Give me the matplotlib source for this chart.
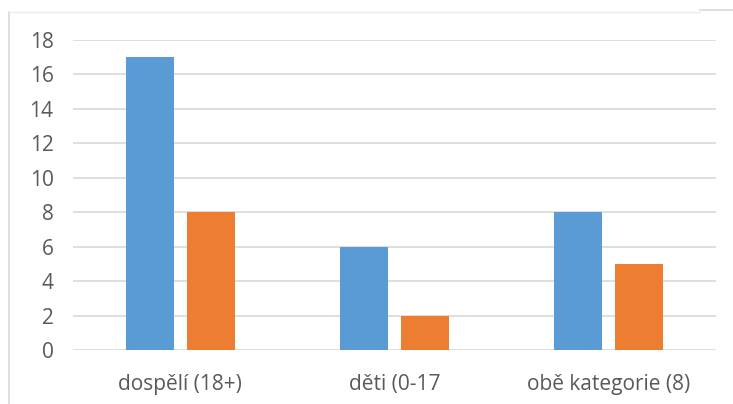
import matplotlib.pyplot as plt
import numpy as np
from matplotlib.lines import Line2D

# category labels and the two series
categories = ['dospělí (18+)', 'děti (0-17', 'obě kategorie (8)']
series_a = [17, 6, 8]
series_b = [8, 2, 5]
yticks = [0, 2, 4, 6, 8, 10, 12, 14, 16, 18]

plt.rcParams['font.family'] = ['Open Sans', 'DejaVu Sans']

fig = plt.figure(figsize=(7.33, 4.04), dpi=100)
ax = fig.add_axes([0.0996, 0.1337, 0.8772, 0.7673])

x = np.arange(len(categories))
w = 0.224
off = 0.142
ax.bar(x - off, series_a, width=w, color='#5b9bd5', zorder=3)
ax.bar(x + off, series_b, width=w, color='#ed7d31', zorder=3)

ax.set_xlim(-0.5, len(categories) - 0.5)
ax.set_ylim(0, 18)
ax.set_yticks(yticks)
ax.set_xticks(x)
ax.set_xticklabels(categories)
ax.tick_params(axis='both', length=0, labelsize=15, colors='#595959')
ax.tick_params(axis='y', pad=14)
ax.tick_params(axis='x', pad=17)
ax.grid(axis='y', color='#d9d9d9', linewidth=1.2, zorder=0)
for s in ax.spines.values():
    s.set_visible(False)

# chart border
fig.add_artist(Line2D([9 / 733, 9 / 733], [0, 1 - 12 / 404], color='#d9d9d9', lw=1.2))
fig.add_artist(Line2D([9 / 733, 700 / 733], [1 - 12 / 404, 1 - 12 / 404], color='#ececec', lw=1.0))
fig.add_artist(Line2D([700 / 733, 733 / 733], [1 - 10 / 404, 1 - 10 / 404], color='#d9d9d9', lw=1.2))

fig.savefig('out.png', dpi=100)
